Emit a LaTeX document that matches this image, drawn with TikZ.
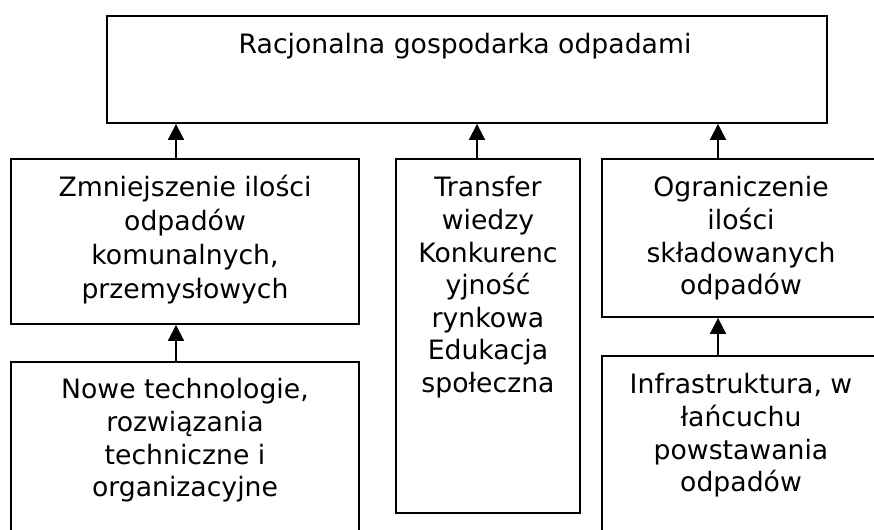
\documentclass[tikz,border=0pt]{standalone}
\usepackage{fontspec}
\setmainfont{DejaVu Sans}
\usetikzlibrary{arrows.meta,fit}
\newcommand\topstrt{\rule{0pt}{1em}}
\begin{document}
\begin{tikzpicture}[x=0.75pt,y=-0.75pt,
  box/.style={draw=black,line width=1.4pt,inner sep=0pt,rectangle},
  txt/.style={inner sep=0pt,align=center,font=\fontsize{20}{24.4}\selectfont},
  arr/.style={line width=1.4pt,-{Triangle[length=12pt,width=12pt]}}]
\useasboundingbox (0,0) rectangle (874,529);
\clip (0,0) rectangle (874,529);
\fill[white] (0,0) rectangle (874,529);
% boxes
\node[box,fit={(107,16) (827,123)}] (top) {};
\node[box,fit={(11,159) (359,324)}] (zl) {};
\node[box,fit={(396,159) (580,513)}] (tr) {};
\node[box,fit={(602,159) (880,317)}] (og) {};
\node[box,fit={(11,362) (359,545)}] (nt) {};
\node[box,fit={(602,356) (880,545)}] (inf) {};
% texts
\node[txt,anchor=base] (ttop) at (465,53) {Racjonalna gospodarka odpadami};
\node[txt,anchor=north,font=\fontsize{20}{25.5}\selectfont] (tzl) at (185,170) {\topstrt Zmniejszenie ilości\\odpadów\\komunalnych,\\przemysłowych};
\node[txt,anchor=north] (ttr) at (488,170) {\topstrt Transfer\\wiedzy\\Konkurenc\\yjność\\rynkowa\\Edukacja\\społeczna};
\node[txt,anchor=north] (tog) at (741,170) {\topstrt Ograniczenie\\ilości\\składowanych\\odpadów};
\node[txt,anchor=north] (tnt) at (185,372) {\topstrt Nowe technologie,\\rozwiązania\\techniczne i\\organizacyjne};
\node[txt,anchor=north] (tinf) at (741,367) {\topstrt Infrastruktura, w\\łańcuchu\\powstawania\\odpadów};
% connector positions
\coordinate (a1) at (176,0);
\coordinate (a2) at (477,0);
\coordinate (a3) at (718,0);
\draw[arr] (zl.north -| a1) -- (top.south -| a1);
\draw[arr] (tr.north -| a2) -- (top.south -| a2);
\draw[arr] (og.north -| a3) -- (top.south -| a3);
\draw[arr] (nt.north -| a1) -- (zl.south -| a1);
\draw[arr] (inf.north -| a3) -- (og.south -| a3);
\end{tikzpicture}
\end{document}
